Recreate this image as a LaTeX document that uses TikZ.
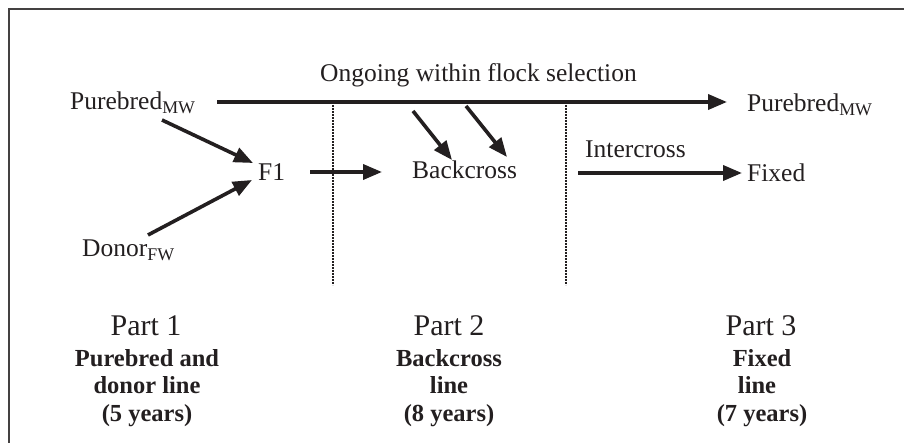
\documentclass[tikz,border=0pt]{standalone}
\usepackage{fontspec}
\setmainfont{Liberation Serif}
\usetikzlibrary{arrows.meta}
\definecolor{ink}{HTML}{231F20}
\begin{document}
\begin{tikzpicture}[x=1pt,y=-1pt,
  lbl/.style={inner sep=0pt,anchor=base west,text=ink,font=\fontsize{25.5}{29}\selectfont},
  partlbl/.style={inner sep=0pt,anchor=base,text=ink,font=\fontsize{30}{34}\selectfont},
  boldlbl/.style={inner sep=0pt,anchor=base,text=ink,font=\fontsize{24.5}{29}\selectfont\bfseries},
  arr/.style={draw=ink,line width=3.6pt,-{Triangle[length=19pt,width=15pt]}},
  divider/.style={draw=ink,line width=1.8pt,dash pattern=on 2pt off 1pt},
  frame/.style={draw=ink!85,line width=2pt}]
\useasboundingbox (0,0) rectangle (904,443);
\fill[white] (0,0) rectangle (904,443);
\draw[frame] (9,443) -- (9,9) -- (904,9);

% nodes
\node[lbl] (pbL) at (70,110) {Purebred\textsubscript{MW}};
\node[lbl] (pbR) at (747,112) {Purebred\textsubscript{MW}};
\node[lbl] (ongo) at (320,82) {Ongoing within flock selection};
\node[lbl] (f1) at (258,181) {F1};
\node[lbl] (bc) at (412,179) {Backcross};
\node[lbl] (inter) at (585,158) {Intercross};
\node[lbl] (fixed) at (747,182) {Fixed};
\node[lbl] (donor) at (82,257) {Donor\textsubscript{FW}};

% connector end points
\coordinate (mainS) at (217,102);
\coordinate (mainE) at (727,102);
\coordinate (pbOut) at (162,120);
\coordinate (f1InA) at (253,163);
\coordinate (donOut) at (148,235);
\coordinate (f1InB) at (252,180);
\coordinate (f1Out) at (310,172);
\coordinate (bcIn) at (382,172);
\coordinate (selA) at (413,111);
\coordinate (bcA) at (452,160);
\coordinate (selB) at (466,106);
\coordinate (bcB) at (507,157);
\coordinate (intS) at (578,173);
\coordinate (intE) at (742,173);
\coordinate (d1t) at (333,102);
\coordinate (d1b) at (333,285);
\coordinate (d2t) at (566,102);
\coordinate (d2b) at (566,285);

\draw[divider] (d1t) -- (d1b);
\draw[divider] (d2t) -- (d2b);
\draw[arr] (mainS) -- (mainE);
\draw[arr] (pbOut) -- (f1InA);
\draw[arr] (donOut) -- (f1InB);
\draw[arr] (f1Out) -- (bcIn);
\draw[arr] (selA) -- (bcA);
\draw[arr] (selB) -- (bcB);
\draw[arr] (intS) -- (intE);

% bottom parts
\node[partlbl] (p1) at (146,335) {Part 1};
\node[boldlbl] (p1a) at (147,366) {Purebred and};
\node[boldlbl] (p1b) at (147,393) {donor line};
\node[boldlbl] (p1c) at (147,421) {(5 years)};
\node[partlbl] (p2) at (449,335) {Part 2};
\node[boldlbl] (p2a) at (449,366) {Backcross};
\node[boldlbl] (p2b) at (449,393) {line};
\node[boldlbl] (p2c) at (449,421) {(8 years)};
\node[partlbl] (p3) at (761,335) {Part 3};
\node[boldlbl] (p3a) at (762,366) {Fixed};
\node[boldlbl] (p3b) at (757,393) {line};
\node[boldlbl] (p3c) at (762,421) {(7 years)};
\end{tikzpicture}
\end{document}
